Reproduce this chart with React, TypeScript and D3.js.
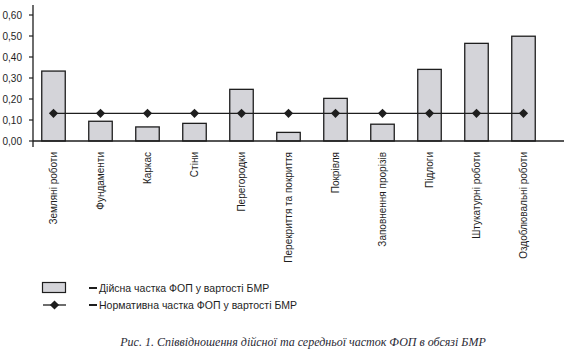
import React from "react";
import * as d3 from "d3";

const categories = [
  "Земляні роботи",
  "Фундаменти",
  "Каркас",
  "Стіни",
  "Перегородки",
  "Перекриття та покриття",
  "Покрівля",
  "Заповнення прорізів",
  "Підлоги",
  "Штукатурні роботи",
  "Оздоблювальні роботи",
];
const actualShare = [0.333, 0.094, 0.067, 0.084, 0.246, 0.041, 0.203, 0.08, 0.341, 0.465, 0.499];
const normativeShare = [0.132, 0.132, 0.132, 0.132, 0.132, 0.132, 0.132, 0.132, 0.132, 0.132, 0.132];
const yTicks = [0, 0.1, 0.2, 0.3, 0.4, 0.5, 0.6];
const legendLabels = ["Дійсна частка ФОП у вартості БМР", "Нормативна частка ФОП у вартості БМР"];
const caption = "Рис. 1. Співвідношення дійсної та середньої часток ФОП в обсязі БМР";

const W = 566;
const H = 357;
const AX = 33;
const BASE = 141;

export default function App() {
  const x = d3.scaleBand<string>().domain(categories).range([30, 547]).paddingInner(0.5).paddingOuter(0.25);
  const y = d3.scaleLinear().domain([0, 0.6]).range([BASE, 15]);
  const cx = (c: string) => (x(c) as number) + x.bandwidth() / 2;
  const fmt = (v: number) => v.toFixed(2).replace(".", ",");
  const line = d3
    .line<number>()
    .x((_, i) => cx(categories[i]))
    .y((d) => y(d));
  const diamond = "M0,-4.6L4.6,0L0,4.6L-4.6,0Z";
  const sans = "'Liberation Sans', Arial, sans-serif";
  const ink = "#1e1e1e";

  return (
    <svg width={W} height={H} style={{ position: "absolute", left: 0, top: 0, background: "#fff" }}>
      {/* bars */}
      {categories.map((c, i) => (
        <rect
          key={c}
          x={x(c)}
          y={y(actualShare[i])}
          width={x.bandwidth()}
          height={BASE - y(actualShare[i])}
          fill="#d4d4d9"
          stroke={ink}
          strokeWidth={1.3}
        />
      ))}
      {/* axes */}
      <line x1={AX} x2={AX} y1={5} y2={147} stroke={ink} strokeWidth={1.3} />
      <line x1={AX} x2={564} y1={BASE} y2={BASE} stroke={ink} strokeWidth={1.3} />
      {yTicks.map((t) => (
        <g key={t}>
          <line x1={AX - 4} x2={AX} y1={y(t)} y2={y(t)} stroke={ink} strokeWidth={1.2} />
          <text x={22} y={y(t)} dy="0.35em" textAnchor="end" fontFamily={sans} fontSize={10} fill={ink}>
            {fmt(t)}
          </text>
        </g>
      ))}
      {/* normative line */}
      <path d={line(normativeShare) as string} fill="none" stroke={ink} strokeWidth={1.3} />
      {normativeShare.map((v, i) => (
        <path key={i} d={diamond} transform={`translate(${cx(categories[i])},${y(v)})`} fill={ink} />
      ))}
      {/* category labels */}
      {categories.map((c) => (
        <text
          key={c}
          transform={`translate(${cx(c)},152) rotate(-90)`}
          dy="0.35em"
          textAnchor="end"
          fontFamily={sans}
          fontSize={10}
          fill={ink}
        >
          {c}
        </text>
      ))}
      {/* legend */}
      <rect x={42.5} y={282.5} width={23} height={10} fill="#d4d4d9" stroke={ink} strokeWidth={1.2} />
      <line x1={43} x2={66} y1={305} y2={305} stroke={ink} strokeWidth={1.3} />
      <path d={diamond} transform="translate(54.5,305)" fill={ink} />
      {legendLabels.map((l, i) => (
        <g key={l}>
          <line x1={89} x2={97} y1={288 + i * 17} y2={288 + i * 17} stroke={ink} strokeWidth={2} />
          <text x={99} y={288 + i * 17} dy="0.35em" fontFamily={sans} fontSize={10.5} fill={ink}>
            {l}
          </text>
        </g>
      ))}
      {/* caption */}
      <text
        x={303}
        y={346}
        textAnchor="middle"
        fontFamily="'Liberation Serif', 'Times New Roman', serif"
        fontStyle="italic"
        fontSize={12}
        fill="#2a2a35"
      >
        {caption}
      </text>
    </svg>
  );
}
